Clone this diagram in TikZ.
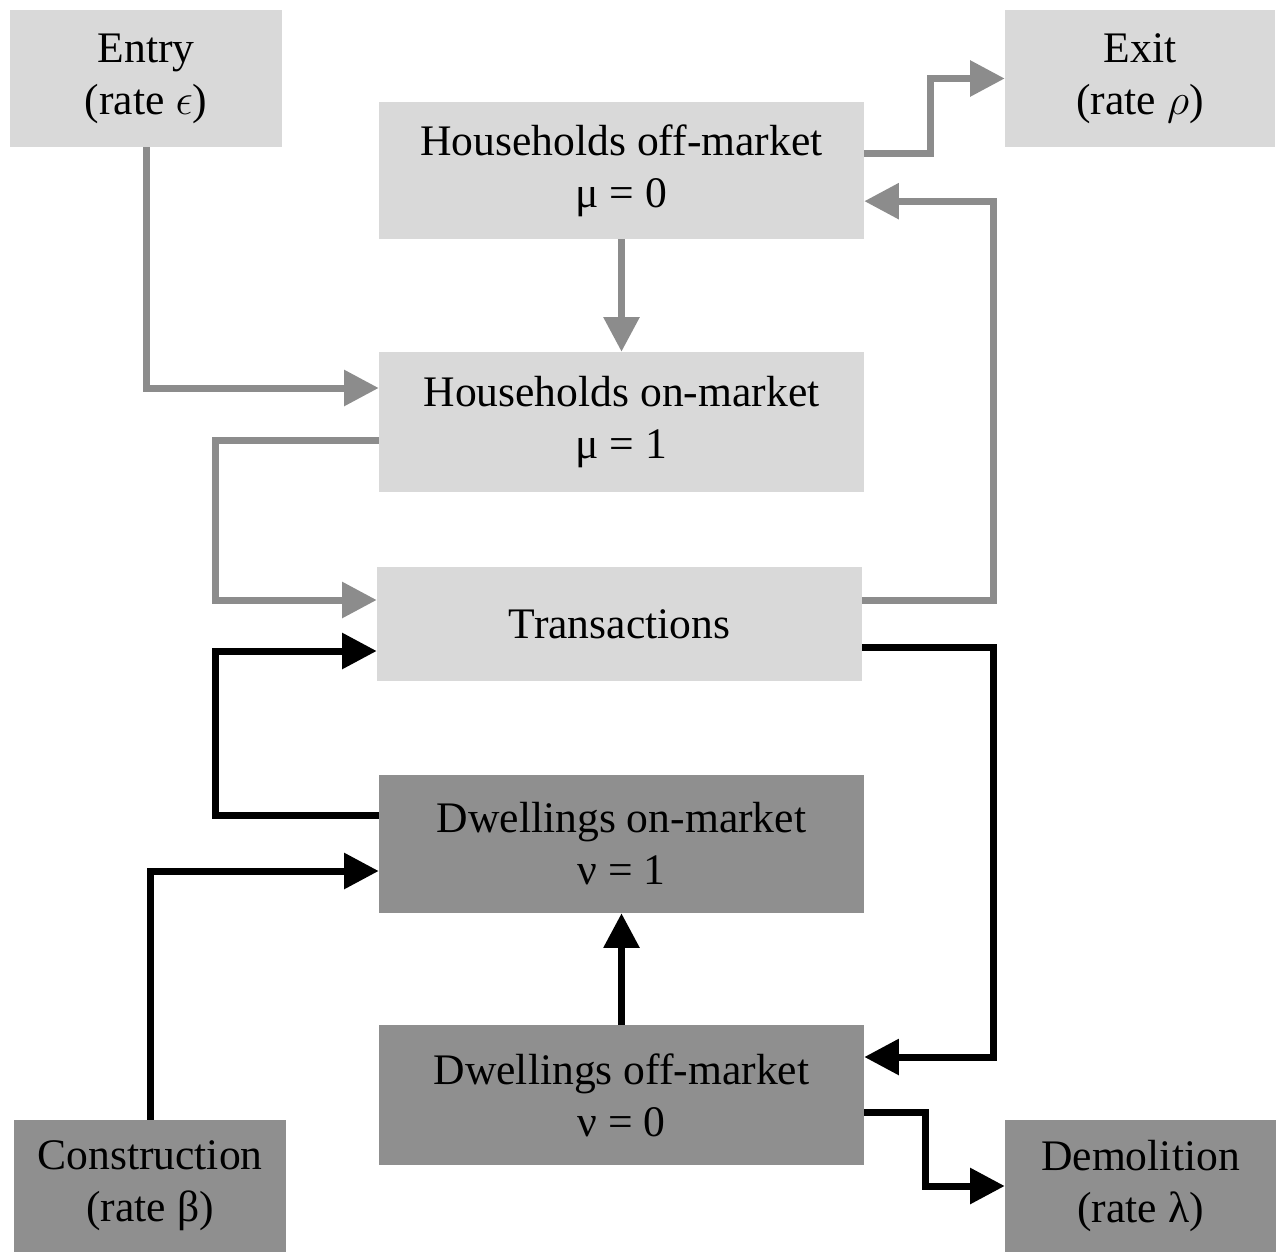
\RequirePackage{fix-cm}
\documentclass[tikz,border=0pt]{standalone}
\usepackage{fontspec}
\setmainfont{Liberation Serif}
\usepackage{tikz}
\usetikzlibrary{arrows.meta}

\definecolor{boxlight}{RGB}{217,217,217}
\definecolor{boxdark}{RGB}{143,143,143}
\definecolor{flowgray}{RGB}{140,140,140}

\tikzset{
  lightbox/.style={fill=boxlight,inner sep=0pt,align=center,font=\fontsize{32.7}{39}\selectfont},
  darkbox/.style={fill=boxdark,inner sep=0pt,align=center,font=\fontsize{32.7}{39}\selectfont},
  grayflow/.style={draw=flowgray,line width=5.25pt,-{Triangle[length=26pt,width=26pt]}},
  blackflow/.style={draw=black,line width=5.25pt,-{Triangle[length=26pt,width=26pt]}}
}

\begin{document}
\begin{tikzpicture}[x=0.75pt,y=0.75pt,yscale=-1,xscale=1]
\useasboundingbox (0,0) rectangle (1280,1252);

% Boxes
\node (entry) [lightbox,minimum width=204pt,minimum height=102.75pt] at (146,78.5) {Entry\\(rate $\epsilon$)};
\node (exit) [lightbox,minimum width=202.5pt,minimum height=102.75pt] at (1140,78.5) {Exit\\(rate $\rho$)};
\node (hhoff) [lightbox,minimum width=363.75pt,minimum height=102.75pt] at (621.5,170.5) {Households off-market\\μ = 0};
\node (hhon) [lightbox,minimum width=363.75pt,minimum height=105pt] at (621.5,422) {Households on-market\\μ = 1};
\node (trans) [lightbox,minimum width=363.75pt,minimum height=85.5pt] at (619.5,624) {Transactions};
\node (dwon) [darkbox,minimum width=363.75pt,minimum height=103.5pt] at (621.5,844) {Dwellings on-market\\ν = 1};
\node (dwoff) [darkbox,minimum width=363.75pt,minimum height=105pt] at (621.5,1095) {Dwellings off-market\\ν = 0};
\node (constr) [darkbox,minimum width=204pt,minimum height=99pt] at (150,1186) {Construction\\(rate β)};
\node (demol) [darkbox,minimum width=203.25pt,minimum height=99pt] at (1140.5,1186) {Demolition\\(rate λ)};

% Households flows
\draw [grayflow] (entry.south) |- ([yshift=-25.5pt]hhon.west);
\draw [grayflow] ([yshift=-13pt]hhoff.east) -- ++(66,0) |- (exit.west);
\draw [grayflow] ([yshift=-18pt]trans.east) -- ++(131,0) |- ([yshift=23pt]hhoff.east);
\draw [grayflow] (hhoff.south) -- (hhon.north);
\draw [grayflow] ([yshift=13.5pt]hhon.west) -- ++(-163,0) |- ([yshift=-18pt]trans.west);

% Dwellings flows
\draw [blackflow] ([yshift=-21.75pt]dwon.west) -- ++(-163,0) |- ([yshift=20.25pt]trans.west);
\draw [blackflow] (constr.north) |- ([yshift=20.25pt]dwon.west);
\draw [blackflow] (dwoff.north) -- (dwon.south);
\draw [blackflow] ([yshift=17.25pt]trans.east) -- ++(131,0) |- ([yshift=-28.5pt]dwoff.east);
\draw [blackflow] ([yshift=12.75pt]dwoff.east) -- ++(61,0) |- (demol.west);

\end{tikzpicture}
\end{document}
